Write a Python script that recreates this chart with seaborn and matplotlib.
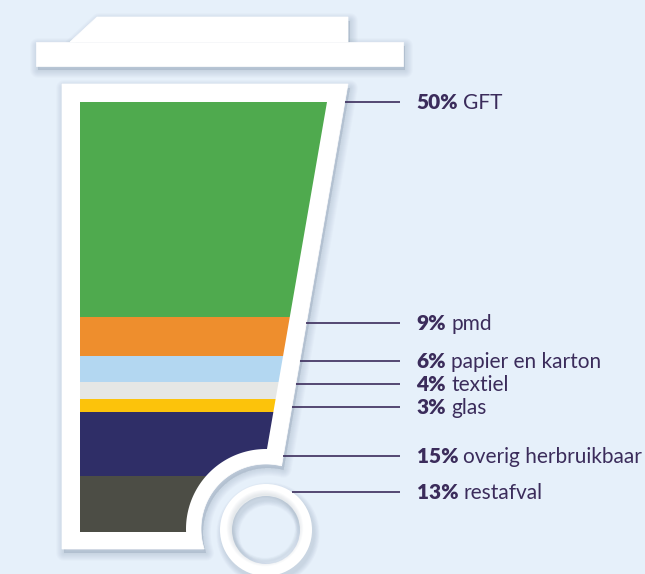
import numpy as np
import matplotlib
matplotlib.use("Agg")
import matplotlib.pyplot as plt
import seaborn as sns
from matplotlib.path import Path
from matplotlib.patches import PathPatch, Wedge, Circle
from matplotlib.transforms import Affine2D

# ---------------- data (bottom of the bin first) ----------------
categories = ["restafval", "overig herbruikbaar", "glas", "textiel",
              "papier en karton", "pmd", "GFT"]
percentages = [13, 15, 3, 4, 6, 9, 50]
band_colors = ["#4C4D45", "#2F2E67", "#FCC30B", "#E5E7E5",
               "#B3D7F1", "#EE8E2D", "#4FAA4E"]

# ---------------- layout (pixel positions of the label rows) ----------------
label_y = [492, 456, 407, 384, 361, 323, 102]

BG = "#E6F0FA"
TXT = "#3B2C5B"
SHADOW = "#7D90A6"

sns.set_theme(style="white")
plt.rcParams["font.family"] = ["Lato", "DejaVu Sans"]

fig = plt.figure(figsize=(6.45, 5.74), dpi=100, facecolor=BG)
ax = fig.add_axes([0, 0, 1, 1])
ax.set_xlim(0, 645)
ax.set_ylim(574, 0)
ax.axis("off")
ax.set_facecolor(BG)

WC = (266.0, 529.0)      # wheel-well centre
RING_C = (266.0, 530.0)  # wheel centre


def slant_hit(x0, y0, slope, r):
    ys = np.linspace(y0, WC[1], 20000)
    xs = x0 + slope * (ys - y0)
    d = np.hypot(xs - WC[0], ys - WC[1])
    i = np.argmax(d <= r)
    return xs[i], ys[i]


def bin_path(left, top, right_top, slope, r, bottom):
    xh, yh = slant_hit(right_top, top, slope, r)
    t0 = np.arctan2(yh - WC[1], xh - WC[0])
    t1 = -(np.pi + np.arcsin((bottom - WC[1]) / r))
    ts = np.linspace(t0, t1, 120)
    arc = np.column_stack([WC[0] + r * np.cos(ts), WC[1] + r * np.sin(ts)])
    pts = np.vstack([[left, top], [right_top, top], [xh, yh], arc,
                     [left, bottom], [left, top]])
    codes = [Path.MOVETO] + [Path.LINETO] * (len(pts) - 2) + [Path.CLOSEPOLY]
    return Path(pts, codes)


outer = bin_path(62, 84, 348, -0.174, 65, 549)
inner = bin_path(80, 102, 327, -0.173, 80, 532)
lid_low = Path([(36, 42), (403, 42), (403, 66), (36, 66), (36, 42)],
               [Path.MOVETO, Path.LINETO, Path.LINETO, Path.LINETO, Path.CLOSEPOLY])
lid_top = Path([(70, 42), (97, 17), (348, 17), (348, 42), (70, 42)],
               [Path.MOVETO, Path.LINETO, Path.LINETO, Path.LINETO, Path.CLOSEPOLY])


def soft_shadow(path, dx=2, dy=4, layers=8):
    for k in range(layers):
        tr = Affine2D().translate(dx, dy) + ax.transData
        ax.add_patch(PathPatch(path, transform=tr, fc=SHADOW, ec=SHADOW,
                               lw=1.4 * (layers - k), alpha=0.035,
                               joinstyle="round", zorder=1))


for p in (lid_low, lid_top, outer):
    soft_shadow(p)
for k in range(8):
    ax.add_patch(Wedge((RING_C[0] + 2, RING_C[1] + 4), 46 + 0.7 * (8 - k), 0, 360,
                       width=12 + 1.4 * (8 - k), fc=SHADOW, ec="none",
                       alpha=0.035, zorder=1))

for p in (lid_low, lid_top, outer):
    ax.add_patch(PathPatch(p, fc="white", ec="white", lw=0.5, zorder=2))
ax.add_patch(Wedge(RING_C, 46, 0, 360, width=12, fc="white", ec="none", zorder=2))
for k in range(5):
    ax.add_patch(Circle((RING_C[0] - 1, RING_C[1] - 2), 34 - 0.2 * k, fc="none",
                        ec=SHADOW, lw=1.2 * (5 - k), alpha=0.04, zorder=2.5))

clip_patch = PathPatch(inner, transform=ax.transData, fc="none", ec="none")
ax.add_patch(clip_patch)

# ---------------- stacked bands (seaborn) ----------------
axb = fig.add_axes([80 / 645, (574 - 532) / 574, 247 / 645, 430 / 574])
axb.patch.set_alpha(0)
bottoms = np.concatenate([[0], np.cumsum(percentages)[:-1]])
for cat, val, b, col in zip(categories, percentages, bottoms, band_colors):
    sns.barplot(x=["bak"], y=[val], bottom=b, color=col, saturation=1,
                width=0.8, errorbar=None, linewidth=0, edgecolor=col, ax=axb)
axb.set_xlim(-0.4, 0.4)
axb.set_ylim(0, 100)
axb.axis("off")
for bar in axb.patches:
    bar.set_clip_path(clip_patch)

# ---------------- leader lines and labels ----------------
fig.canvas.draw()
renderer = fig.canvas.get_renderer()
FS = 15.0
for cat, val, ly in zip(categories, percentages, label_y):
    if cat == "restafval":
        xs = RING_C[0] + np.sqrt(46 ** 2 - (RING_C[1] - ly) ** 2)
    else:
        xs = 348 - 0.174 * (ly - 84)
    ax.plot([xs, 400], [ly, ly], color=TXT, lw=1.2, solid_capstyle="butt", zorder=4)
    tb = ax.text(416.5, ly + 7.4, f"{val}%", fontsize=FS, fontweight="heavy",
                 color=TXT, va="baseline", ha="left", zorder=5)
    w = tb.get_window_extent(renderer).width
    ax.text(416.5 + w + 5, ly + 7.4, cat, fontsize=FS, color=TXT,
            va="baseline", ha="left", zorder=5)

fig.savefig("out.png", dpi=100, facecolor=BG)
